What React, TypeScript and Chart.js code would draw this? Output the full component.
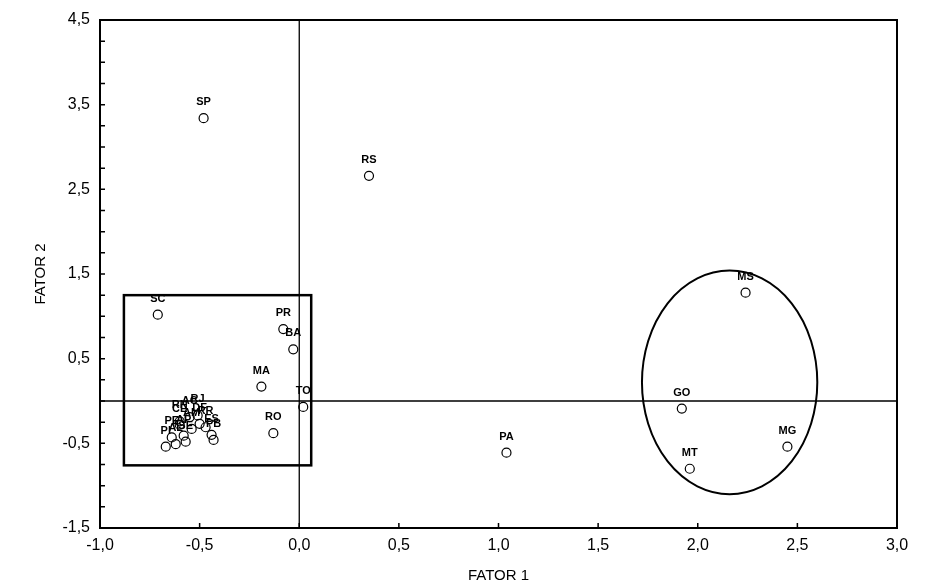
import React, { useEffect, useRef } from 'react';
import { Chart, registerables } from 'chart.js';

Chart.register(...registerables);

// ---- data ----
const states = [
  'SP', 'RS', 'SC', 'PR', 'BA', 'MA', 'TO', 'RO', 'PA', 'MS', 'GO', 'MT', 'MG',
  'PI', 'AL', 'AP', 'AM', 'CE', 'DF', 'ES', 'PB', 'PE', 'AC', 'RJ', 'RN', 'RR', 'SE',
];
const fator1 = [
  -0.48, 0.35, -0.71, -0.08, -0.03, -0.19, 0.02, -0.13, 1.04, 2.24, 1.92, 1.96, 2.45,
  -0.67, -0.62, -0.58, -0.54, -0.60, -0.50, -0.44, -0.43, -0.64, -0.55, -0.51, -0.60, -0.47, -0.57,
];
const fator2 = [
  3.34, 2.66, 1.02, 0.85, 0.61, 0.17, -0.07, -0.38, -0.61, 1.28, -0.09, -0.80, -0.54,
  -0.54, -0.51, -0.41, -0.33, -0.28, -0.27, -0.40, -0.46, -0.43, -0.19, -0.17, -0.24, -0.31, -0.48,
];
const xTickLabels = ['-1,0', '-0,5', '0,0', '0,5', '1,0', '1,5', '2,0', '2,5', '3,0'];
const yTickLabels = ['-1,5', '-0,5', '0,5', '1,5', '2,5', '3,5', '4,5'];
const xTitle = 'FATOR 1';
const yTitle = 'FATOR 2';

// highlighted groups (data coordinates)
const boxX = [-0.88, 0.06];
const boxY = [-0.76, 1.25];
const ellipseCenter = [2.16, 0.22];
const ellipseRadii = [0.44, 1.32];

const FONT = '"Liberation Sans", Arial, sans-serif';

const decorPlugin = {
  id: 'decor',
  afterDatasetsDraw(chart: any) {
    const { ctx, chartArea: a, scales } = chart;
    const xs = scales.x;
    const ys = scales.y;
    ctx.save();
    ctx.strokeStyle = '#000';
    // zero lines
    ctx.lineWidth = 1.3;
    const x0 = xs.getPixelForValue(0);
    const y0 = ys.getPixelForValue(0);
    ctx.beginPath();
    ctx.moveTo(x0, a.top);
    ctx.lineTo(x0, a.bottom);
    ctx.moveTo(a.left, y0);
    ctx.lineTo(a.right, y0);
    ctx.stroke();

    // rectangle
    ctx.lineWidth = 2.5;
    const rx1 = xs.getPixelForValue(boxX[0]);
    const rx2 = xs.getPixelForValue(boxX[1]);
    const ry1 = ys.getPixelForValue(boxY[1]);
    const ry2 = ys.getPixelForValue(boxY[0]);
    ctx.strokeRect(rx1, ry1, rx2 - rx1, ry2 - ry1);

    // ellipse
    ctx.lineWidth = 2;
    const ecx = xs.getPixelForValue(ellipseCenter[0]);
    const ecy = ys.getPixelForValue(ellipseCenter[1]);
    const erx = Math.abs(xs.getPixelForValue(ellipseCenter[0] + ellipseRadii[0]) - ecx);
    const ery = Math.abs(ys.getPixelForValue(ellipseCenter[1] + ellipseRadii[1]) - ecy);
    ctx.beginPath();
    ctx.ellipse(ecx, ecy, erx, ery, 0, 0, Math.PI * 2);
    ctx.stroke();

    // frame
    ctx.lineWidth = 2;
    ctx.strokeRect(a.left, a.top, a.right - a.left, a.bottom - a.top);

    // inner tick marks
    ctx.lineWidth = 1.5;
    ctx.beginPath();
    xs.ticks.forEach((t: any) => {
      const px = xs.getPixelForValue(t.value);
      ctx.moveTo(px, a.bottom);
      ctx.lineTo(px, a.bottom - 5);
    });
    ys.ticks.forEach((t: any) => {
      const py = ys.getPixelForValue(t.value);
      ctx.moveTo(a.left, py);
      ctx.lineTo(a.left + 5, py);
    });
    ctx.stroke();

    // point labels
    ctx.fillStyle = '#000';
    ctx.font = 'bold 11px ' + FONT;
    ctx.textAlign = 'center';
    ctx.textBaseline = 'middle';
    const meta = chart.getDatasetMeta(0);
    meta.data.forEach((pt: any, i: number) => {
      ctx.fillText(states[i], pt.x, pt.y - 16);
    });
    ctx.restore();
  },
};

export default function App() {
  const ref = useRef<HTMLCanvasElement>(null);
  useEffect(() => {
    if (!ref.current) return;
    const chart = new Chart(ref.current, {
      type: 'scatter',
      data: {
        datasets: [
          {
            data: fator1.map((x, i) => ({ x, y: fator2[i] })),
            pointStyle: 'circle',
            pointRadius: 4.5,
            backgroundColor: 'rgba(0,0,0,0)',
            borderColor: '#000',
            borderWidth: 1.2,
          },
        ],
      },
      options: {
        animation: false,
        responsive: true,
        maintainAspectRatio: false,
        layout: { padding: { top: 20, right: 32, left: 0, bottom: 0 } },
        plugins: { legend: { display: false }, tooltip: { enabled: false } },
        scales: {
          x: {
            type: 'linear',
            min: -1,
            max: 3,
            grid: { display: false, drawTicks: false },
            border: { display: false },
            ticks: {
              stepSize: 0.5,
              autoSkip: false,
              padding: 8,
              color: '#000',
              font: { family: FONT, size: 16 },
              callback: (v: any) => {
                const i = Math.round((Number(v) + 1) / 0.5);
                return xTickLabels[i] ?? '';
              },
            },
            title: {
              display: true,
              text: xTitle,
              color: '#000',
              font: { family: FONT, size: 15 },
              padding: { top: 4, bottom: 0 },
            },
            afterFit: (s: any) => {
              s.height = 57;
            },
          },
          y: {
            type: 'linear',
            min: -1.5,
            max: 4.5,
            grid: { display: false, drawTicks: false },
            border: { display: false },
            ticks: {
              stepSize: 0.25,
              autoSkip: false,
              padding: 10,
              color: '#000',
              font: { family: FONT, size: 16 },
              callback: (v: any) => {
                const n = Number(v) + 1.5;
                if (Math.abs(n - Math.round(n)) > 1e-6) return '';
                return yTickLabels[Math.round(n)] ?? '';
              },
            },
            title: {
              display: true,
              text: yTitle,
              color: '#000',
              font: { family: FONT, size: 15 },
              padding: { top: 32, bottom: 0 },
            },
            afterFit: (s: any) => {
              s.width = 100;
            },
          },
        },
      },
      plugins: [decorPlugin],
    });
    return () => chart.destroy();
  }, []);
  return (
    <div style={{ position: 'absolute', left: 0, top: 0, width: 929, height: 585, background: '#fff' }}>
      <canvas ref={ref} />
    </div>
  );
}
